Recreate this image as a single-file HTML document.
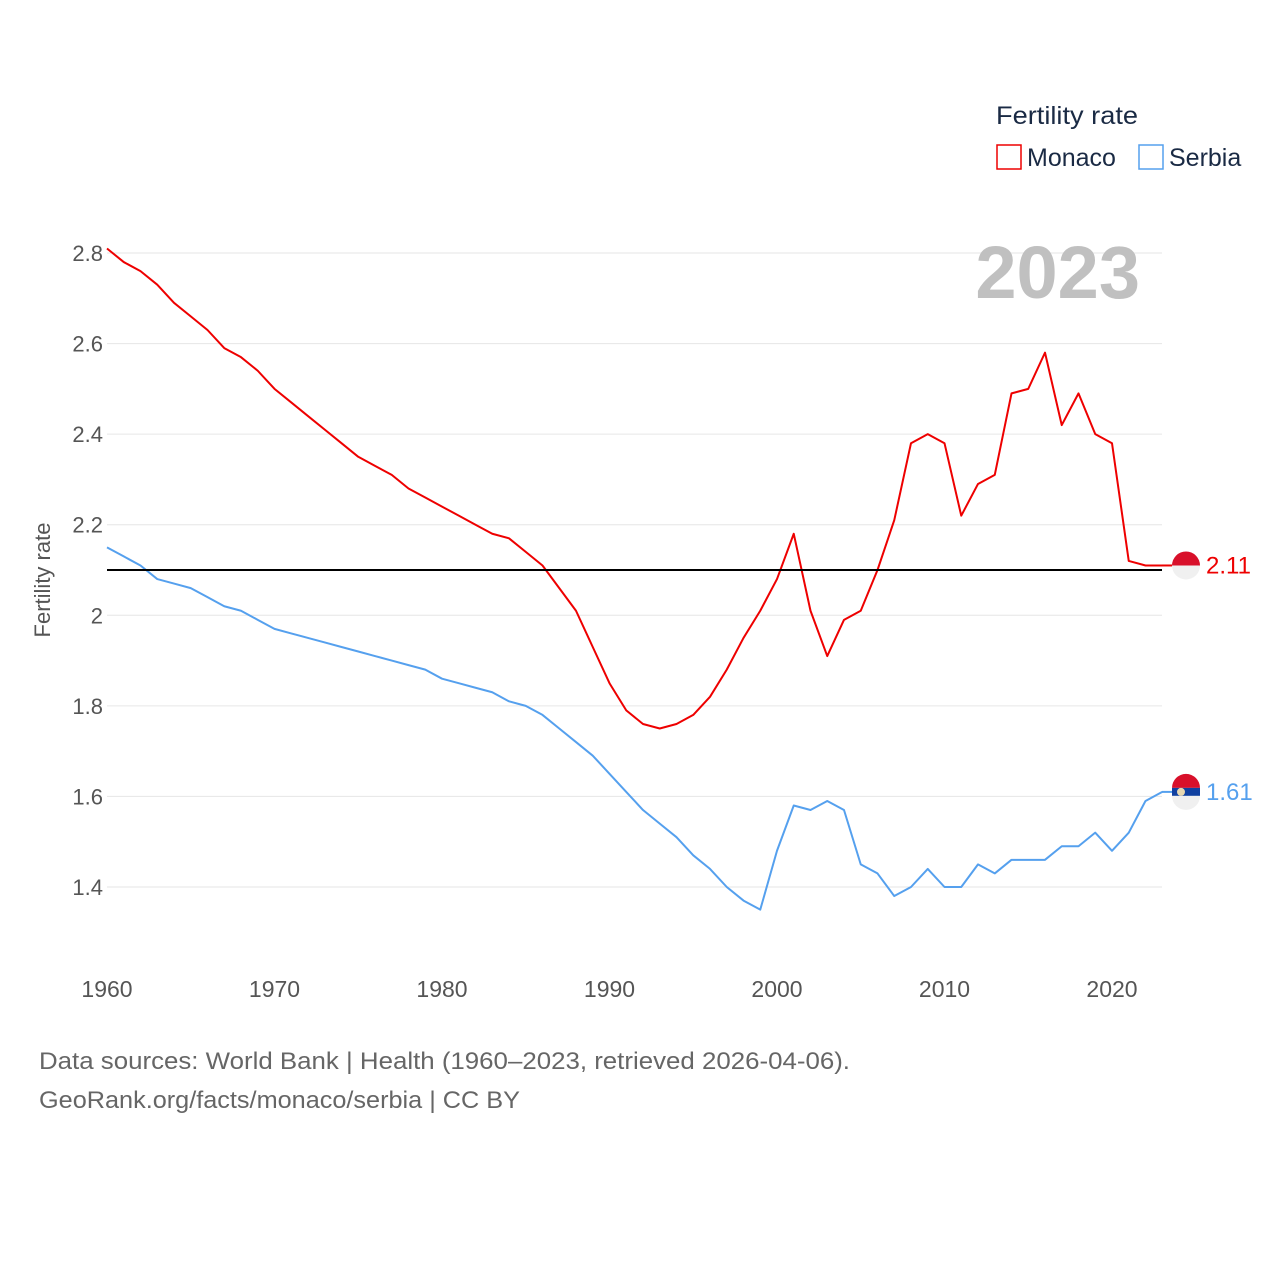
<!DOCTYPE html>
<html><head><meta charset="utf-8"><style>
body{margin:0;background:#fff;}
svg text{font-family:"Liberation Sans",sans-serif;}
</style></head><body>
<svg width="1280" height="1280" xmlns="http://www.w3.org/2000/svg">
<g id="grid"></g>
<g id="series"></g>
<text x="1140" y="298" text-anchor="end" font-size="74" font-weight="bold" fill="#c0c0c0">2023</text>
<text x="996" y="124" font-size="25" fill="#1a2a44" textLength="142" lengthAdjust="spacingAndGlyphs">Fertility rate</text>
<g><rect x="997" y="145" width="24" height="24" fill="none" stroke="#ee0000" stroke-width="1.5"/><text x="1027" y="166" font-size="25" fill="#1a2a44">Monaco</text></g>
<g><rect x="1139" y="145" width="24" height="24" fill="none" stroke="#55a0ee" stroke-width="1.5"/><text x="1169" y="166" font-size="25" fill="#1a2a44">Serbia</text></g>
<text transform="translate(50,580) rotate(-90)" text-anchor="middle" font-size="22" fill="#555">Fertility rate</text>
<text x="39" y="1069" font-size="24" fill="#666" textLength="811" lengthAdjust="spacingAndGlyphs">Data sources: World Bank | Health (1960–2023, retrieved 2026-04-06).</text>
<text x="39" y="1108" font-size="24" fill="#666" textLength="481" lengthAdjust="spacingAndGlyphs">GeoRank.org/facts/monaco/serbia | CC BY</text>
</svg>
<script>
const years=[];for(let y=1960;y<=2023;y++)years.push(y);
const monaco=[2.81,2.78,2.76,2.73,2.69,2.66,2.63,2.59,2.57,2.54,2.50,2.47,2.44,2.41,2.38,2.35,2.33,2.31,2.28,2.26,2.24,2.22,2.20,2.18,2.17,2.14,2.11,2.06,2.01,1.93,1.85,1.79,1.76,1.75,1.76,1.78,1.82,1.88,1.95,2.01,2.08,2.18,2.01,1.91,1.99,2.01,2.10,2.21,2.38,2.40,2.38,2.22,2.29,2.31,2.49,2.50,2.58,2.42,2.49,2.40,2.38,2.12,2.11,2.11];
const serbia=[2.15,2.13,2.11,2.08,2.07,2.06,2.04,2.02,2.01,1.99,1.97,1.96,1.95,1.94,1.93,1.92,1.91,1.90,1.89,1.88,1.86,1.85,1.84,1.83,1.81,1.80,1.78,1.75,1.72,1.69,1.65,1.61,1.57,1.54,1.51,1.47,1.44,1.40,1.37,1.35,1.48,1.58,1.57,1.59,1.57,1.45,1.43,1.38,1.40,1.44,1.40,1.40,1.45,1.43,1.46,1.46,1.46,1.49,1.49,1.52,1.48,1.52,1.59,1.61];
const yTicks=[1.4,1.6,1.8,2.0,2.2,2.4,2.6,2.8];
const yTickLabels=["1.4","1.6","1.8","2","2.2","2.4","2.6","2.8"];
const xTicks=[1960,1970,1980,1990,2000,2010,2020];
const replacement=2.1;
const NS="http://www.w3.org/2000/svg";
const X=y=>107+(y-1960)*16.75;
const Y=v=>887-(v-1.4)*452.85;
const grid=document.getElementById('grid'),ser=document.getElementById('series');
function mk(tag,attrs,parent){const e=document.createElementNS(NS,tag);for(const k in attrs)e.setAttribute(k,attrs[k]);parent.appendChild(e);return e;}
yTicks.forEach((t,i)=>{
 const l=mk('line',{x1:107,x2:1162,y1:Y(t),y2:Y(t),stroke:'#e6e6e6','stroke-width':1},grid);
 
 
 const tx=mk('text',{x:103,y:Y(t)+8,'text-anchor':'end','font-size':22,fill:'#555'},grid);
 tx.textContent=yTickLabels[i];
 
 
});
xTicks.forEach(t=>{
 const tx=mk('text',{x:X(t),y:997,'text-anchor':'middle','font-size':23,fill:'#555'},grid);
 tx.textContent=t;
 
 
});
function line(vals,color,name){
 const p=mk('polyline',{points:vals.map((v,i)=>X(years[i])+','+Y(v)).join(' '),fill:'none',stroke:color,'stroke-width':2,'stroke-linejoin':'round'},ser);
 
 
}
line(serbia,'#55a0ee','serbia-line');
line(monaco,'#ee0000','monaco-line');
const rl=mk('line',{x1:107,x2:1162,y1:Y(replacement),y2:Y(replacement),stroke:'#000','stroke-width':2},ser);


function endMark(vals,color,name,flag){
 const v=vals[vals.length-1],yy=Y(v);
 const g=mk('g',{},ser);
 
 
 mk('line',{x1:1162,x2:1172,y1:yy,y2:yy,stroke:color,'stroke-width':2},g);
 if(flag==='mc'){
  mk('path',{d:`M1172 ${yy} a14 14 0 0 1 28 0 z`,fill:'#d8102a'},g);
  mk('path',{d:`M1172 ${yy} a14 14 0 0 0 28 0 z`,fill:'#f0f0f0'},g);
 }else{
  mk('path',{d:`M1172 ${yy-4} a14 14 0 0 1 28 0 z`,fill:'#d8102a'},g);
  mk('rect',{x:1172,y:yy-4,width:28,height:8,fill:'#1040a0'},g);
  mk('path',{d:`M1172 ${yy+4} a14 14 0 0 0 28 0 z`,fill:'#f0f0f0'},g);
  mk('circle',{cx:1181,cy:yy,r:4,fill:'#e8d8b0'},g);
 }
 const t=mk('text',{x:1206,y:yy+8,'font-size':24,fill:color},g);
 t.textContent=v.toFixed(2);
}
endMark(monaco,'#ee0000','monaco-end-label','mc');
endMark(serbia,'#55a0ee','serbia-end-label','rs');
</script>
</body></html>
